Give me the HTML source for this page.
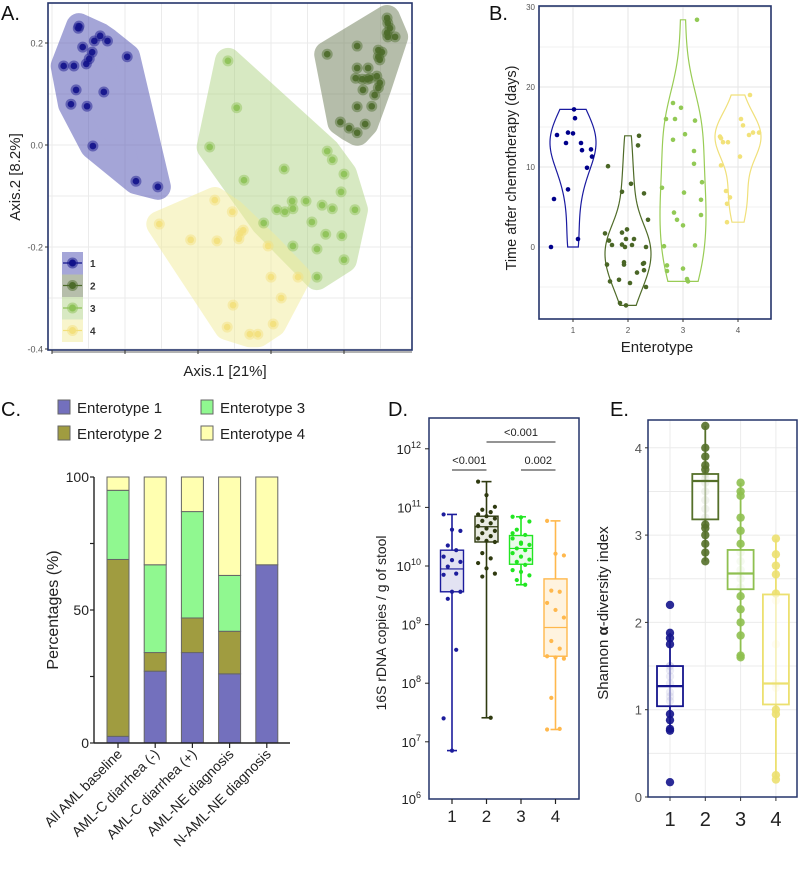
<!DOCTYPE html>
<html><head><meta charset="utf-8">
<style>
html,body{margin:0;padding:0;background:#fff;}
svg{display:block;font-family:"Liberation Sans",sans-serif;}
</style></head>
<body>
<svg id="fig" width="798" height="885" viewBox="0 0 798 885" xmlns="http://www.w3.org/2000/svg">
<g id="pA"></g>
<g id="pB"></g>
<g id="pC"></g>
<g id="pD"></g>
<g id="pE"></g>
</svg>
<script>
// ---------- Panel A data ----------
const aClusterNames = ['1','2','3','4'];
const aC1 = [[-0.163,0.233],[-0.164,0.229],[-0.158,0.192],[-0.142,0.204],[-0.134,0.214],[-0.124,0.204],[-0.145,0.182],[-0.149,0.169],[-0.153,0.159],[-0.170,0.155],[-0.184,0.155],[-0.097,0.173],[-0.167,0.108],[-0.129,0.104],[-0.174,0.080],[-0.152,0.076],[-0.144,-0.002],[-0.085,-0.071],[-0.055,-0.082]];
const aC2 = [[0.259,0.249],[0.260,0.239],[0.263,0.229],[0.259,0.220],[0.270,0.212],[0.260,0.212],[0.218,0.194],[0.177,0.178],[0.247,0.186],[0.252,0.182],[0.247,0.173],[0.249,0.167],[0.218,0.151],[0.233,0.151],[0.216,0.131],[0.225,0.129],[0.236,0.131],[0.245,0.135],[0.249,0.122],[0.247,0.112],[0.226,0.108],[0.242,0.098],[0.218,0.075],[0.238,0.076],[0.195,0.045],[0.207,0.033],[0.218,0.024],[0.229,0.041],[0.232,0.129]];
const aC3 = [[0.041,0.165],[0.053,0.073],[0.016,-0.004],[0.063,-0.069],[0.118,-0.047],[0.177,-0.012],[0.184,-0.029],[0.200,-0.057],[0.196,-0.092],[0.129,-0.110],[0.148,-0.110],[0.170,-0.118],[0.184,-0.125],[0.215,-0.127],[0.108,-0.127],[0.119,-0.131],[0.130,-0.125],[0.090,-0.153],[0.156,-0.151],[0.175,-0.175],[0.197,-0.178],[0.130,-0.198],[0.163,-0.204],[0.200,-0.225],[0.163,-0.259]];
const aC4 = [[0.023,-0.108],[0.047,-0.131],[-0.053,-0.155],[0.062,-0.167],[0.058,-0.173],[0.056,-0.184],[-0.010,-0.186],[0.026,-0.188],[0.096,-0.198],[0.100,-0.259],[0.137,-0.259],[0.114,-0.300],[0.048,-0.314],[0.103,-0.351],[0.040,-0.357],[0.071,-0.371],[0.082,-0.371]];
const aYTicks = [0.2,0.0,-0.2,-0.4];
const aYTickLabels = ['0.2','0.0','-0.2','-0.4'];
const aXTicks = [-0.2,-0.1,0,0.1,0.2];

// ---------- Panel B data ----------
const bCats = ['1','2','3','4'];
const bG1 = [0,6,14,13,7.2,14.3,14.2,17.2,16.1,1,13,12.1,9.9,12.2,11.3];
const bG1j = [-22,-19,-16,-7,-5,-5,0,1,2,5,8,9,14,18,19];
const bG2 = [10.1,1.7,0.8,0.25,-2.2,-4.3,-4.1,-7,-7.3,6.9,7.9,1.8,2.2,1,0.3,0,-1.9,-2.2,-4.5,0.25,1,-3.2,-2.1,-2,-2.9,0,-5,6.7,3.4,12.7,13.9];
const bG2j = [-20,-23,-19,-16,-21,-18,-9,-8,-2,-6,3,-6,-1,-2,-6,-3,-4,-4,2,4,6,9,15,16,16,18,18,16,20,10,11];
const bG3 = [7.4,0.1,16,-2.3,-3,18,16,13.4,4.3,3.4,17.4,2.7,-2.7,14.1,6.8,-4.3,-4,15.8,12,10.4,0.2,28.4,8.1,5.9,4];
const bG3j = [-21,-19,-17,-16,-16,-10,-8,-10,-9,-6,-2,0,0,2,1,5,4,12,11,11,12,14,19,18,18];
const bG4 = [13.8,13.6,13.1,13.1,10.2,7,5.4,6.2,3.1,11.3,16,15.2,14,14.3,14.3,19];
const bG4j = [-18,-17,-15,-10,-17,-12,-11,-8,-11,2,3,5,11,15,21,12];
const bYTicks = [0,10,20,30];

// ---------- Panel C data ----------
const cCats = ['All AML baseline','AML-C diarrhea (-)','AML-C diarrhea (+)','AML-NE diagnosis','N-AML-NE diagnosis'];
const cE1 = [2.5,27,34,26,67];
const cE2 = [66.5,7,13,16,0];
const cE3 = [26,33,40,21,0];
const cE4 = [5,33,13,37,33];
const cLegend = ['Enterotype 1','Enterotype 2','Enterotype 3','Enterotype 4'];
const cYTicks = [0,50,100];

// ---------- Panel D data (log10 copies) ----------
const dCats = ['1','2','3','4'];
const dMin = [6.85,7.41,9.68,7.21];
const dQ1 = [9.56,10.41,10.03,8.46];
const dMed = [9.95,10.67,10.30,8.95];
const dQ3 = [10.27,10.85,10.52,9.78];
const dMax = [10.88,11.44,10.84,10.77];
const dP1 = [10.88,10.62,10.60,10.35,10.27,10.16,10.10,10.07,9.99,9.87,9.85,9.56,9.56,9.44,8.57,7.40,6.85];
const dP2 = [11.44,11.21,11.01,10.96,10.92,10.88,10.85,10.81,10.77,10.73,10.68,10.64,10.60,10.56,10.51,10.47,10.43,10.41,10.22,10.13,10.05,9.96,9.87,9.82,7.41];
const dP3 = [10.84,10.83,10.76,10.62,10.53,10.47,10.40,10.36,10.30,10.27,10.22,10.16,10.11,10.07,10.02,9.93,9.90,9.84,9.76,9.68,10.56,10.38];
const dP4 = [10.77,10.21,10.18,9.58,9.56,9.37,9.25,9.12,8.72,8.59,8.46,8.44,8.42,7.75,7.22,7.21];
const dYTicks = [7,8,9,10,11,12];

// ---------- Panel E data ----------
const eCats = ['1','2','3','4'];
const eLo = [0.78,2.7,1.6,0.2];
const eQ1 = [1.04,3.18,2.38,1.06];
const eMed = [1.27,3.62,2.56,1.3];
const eQ3 = [1.5,3.7,2.83,2.32];
const eHi = [1.88,4.25,3.6,2.96];
const eP1 = [2.2,1.88,1.82,1.75,1.5,1.45,1.38,1.3,1.2,1.15,1.1,0.95,0.88,0.78,0.76,0.17];
const eP2 = [4.25,4.0,3.9,3.8,3.75,3.7,3.65,3.6,3.5,3.4,3.3,3.2,3.12,3.08,3.0,2.9,2.8,2.7];
const eP3 = [3.6,3.5,3.45,3.2,3.05,2.9,2.8,2.7,2.6,2.5,2.4,2.3,2.15,2.0,1.85,1.62,1.6];
const eP4 = [2.96,2.78,2.65,2.55,2.33,2.25,1.75,1.3,1.25,1.0,0.95,0.25,0.2];
const eYTicks = [0,1,2,3,4];

const NS='http://www.w3.org/2000/svg';
function mk(parent,tag,attrs,text){const e=document.createElementNS(NS,tag);for(const k in attrs)e.setAttribute(k,attrs[k]);if(text!==undefined)e.textContent=text;parent.appendChild(e);return e;}

// ================= Panel A =================
(function(){
  const g=document.getElementById('pA');
  const L=48,R=412,T=3,B=350;
  const xs=v=>52+(v+0.2)*730, ys=v=>145-v*510;
  mk(g,'rect',{x:L,y:T,width:R-L,height:B-T,fill:'#fff'});
  for(let v=-0.4;v<=0.25;v+=0.1){const y=ys(v);if(y<T||y>B)continue;
    const l=mk(g,'line',{x1:L,x2:R,y1:y,y2:y,stroke:'#ebebeb','stroke-width':1});
    }
  for(let v=-0.2;v<=0.26;v+=0.05){const x=xs(v);if(x>R)continue;
    const l=mk(g,'line',{x1:x,x2:x,y1:T,y2:B,stroke:'#ebebeb','stroke-width':1});
    }
  const hullCols=['#5b5cb8','#6e7d58','#a8cf7a','#f2ec9a'];
  const hullOp=[0.55,0.5,0.45,0.5];
  const ptCols=['#12128a','#4c6a2a','#8dc257','#f3e07c'];
  const clusters=[aC1,aC2,aC3,aC4];
  function hull(p){p=p.slice().sort((a,b)=>a[0]-b[0]||a[1]-b[1]);const cr=(o,a,b)=>(a[0]-o[0])*(b[1]-o[1])-(a[1]-o[1])*(b[0]-o[0]);
    const lo=[],up=[];for(const q of p){while(lo.length>=2&&cr(lo[lo.length-2],lo[lo.length-1],q)<=0)lo.pop();lo.push(q);}
    for(let i=p.length-1;i>=0;i--){const q=p[i];while(up.length>=2&&cr(up[up.length-2],up[up.length-1],q)<=0)up.pop();up.push(q);}
    up.pop();lo.pop();return lo.concat(up);}
  const clip=mk(g,'clipPath',{id:'clipA'});mk(clip,'rect',{x:L,y:T,width:R-L,height:B-T});
  const hg=mk(g,'g',{'clip-path':'url(#clipA)'});
  clusters.forEach((c,i)=>{
    const px=c.map(p=>[xs(p[0]),ys(p[1])]);const h=hull(px);
    const grp=mk(hg,'g',{opacity:hullOp[i]});
    const poly=mk(grp,'polygon',{points:h.map(p=>p.join(',')).join(' '),fill:hullCols[i],stroke:hullCols[i],'stroke-width':26,'stroke-linejoin':'round'});
    
    
  });
  clusters.forEach((c,i)=>{
    c.forEach(p=>{
      const h=mk(hg,'circle',{cx:xs(p[0]),cy:ys(p[1]),r:5.5,fill:ptCols[i],opacity:0.45});
      
      const d=mk(hg,'circle',{cx:xs(p[0]),cy:ys(p[1]),r:3.3,fill:ptCols[i],opacity:0.9});
      
    });
  });
  mk(g,'rect',{x:L,y:T,width:R-L,height:B-T,fill:'none',stroke:'#24346a','stroke-width':1.6,});
  aYTicks.forEach((v,i)=>{const y=ys(v);
    const t=mk(g,'text',{x:L-5,y:y+3.5,'text-anchor':'end','font-size':9,fill:'#555'},aYTickLabels[i]);
    
    mk(g,'line',{x1:L-3,x2:L,y1:y,y2:y,stroke:'#333'});});
  aXTicks.forEach(v=>{const x=xs(v);const l=mk(g,'line',{x1:x,x2:x,y1:B,y2:B+4,stroke:'#333'});
    });
  mk(g,'line',{x1:xs(-0.2),x2:R,y1:B+2,y2:B+2,stroke:'#333','stroke-width':0.8});
  mk(g,'text',{x:225,y:376,'text-anchor':'middle','font-size':15,fill:'#222',},'Axis.1 [21%]');
  mk(g,'text',{x:0,y:0,transform:'translate(20,177) rotate(-90)','text-anchor':'middle','font-size':15,fill:'#222',},'Axis.2 [8.2%]');
  mk(g,'text',{x:1,y:20,'font-size':20,fill:'#111',},'A.');
  const lg=mk(g,'g',{});
  [0,1,2,3].forEach(i=>{const y=252+i*22.5;
    const e=mk(lg,'g',{});
    mk(e,'rect',{x:62,y:y,width:21,height:22.5,fill:hullCols[i],opacity:hullOp[i]});
    mk(e,'line',{x1:63,x2:82,y1:y+11,y2:y+11,stroke:ptCols[i],'stroke-width':1.2});
    mk(e,'circle',{cx:72.5,cy:y+11,r:5.5,fill:ptCols[i],opacity:0.5});
    mk(e,'circle',{cx:72.5,cy:y+11,r:3.5,fill:ptCols[i]});
    mk(e,'text',{x:90,y:y+15,'font-size':10,'font-weight':'bold',fill:'#333'},aClusterNames[i]);
  });
})();

// ================= Panel B =================
(function(){
  const g=document.getElementById('pB');
  const L=539,R=771,T=6,B=319;
  const xs=i=>573+i*55, ys=v=>247-v*8;
  mk(g,'rect',{x:L,y:T,width:R-L,height:B-T,fill:'#fff'});
  for(let v=-5;v<=30;v+=5){const y=ys(v);const l=mk(g,'line',{x1:L,x2:R,y1:y,y2:y,stroke:v%10===0?'#e6e6e6':'#f0f0f0','stroke-width':1});
    }
  bCats.forEach((c,i)=>{const l=mk(g,'line',{x1:xs(i),x2:xs(i),y1:T,y2:B,stroke:'#e6e6e6'});});
  const cols=['#1a1aa0','#4f6b28','#99cc55','#f0e07a'];
  const ptc=['#00008b','#4a6626','#92c955','#f2e27a'];
  const groups=[bG1,bG2,bG3,bG4], jit=[bG1j,bG2j,bG3j,bG4j];
  groups.forEach((vals,gi)=>{
    const mn=Math.min(...vals),mx=Math.max(...vals);
    const n=vals.length,mean=vals.reduce((a,b)=>a+b,0)/n,sd=Math.sqrt(vals.reduce((s,v)=>s+(v-mean)**2,0)/(n-1));
    const bw=1.05*sd*Math.pow(n,-0.2);
    const steps=60,dens=[];
    for(let k=0;k<=steps;k++){const y=mn+(mx-mn)*k/steps;let d=0;vals.forEach(v=>{d+=Math.exp(-0.5*((y-v)/bw)**2);});dens.push([y,d]);}
    const dm=Math.max(...dens.map(d=>d[1]));const half=23;
    const right=dens.map(d=>[xs(gi)+d[1]/dm*half,ys(d[0])]);
    const left=dens.slice().reverse().map(d=>[xs(gi)-d[1]/dm*half,ys(d[0])]);
    const p=mk(g,'polygon',{points:right.concat(left).map(q=>q.join(',')).join(' '),fill:'none',stroke:cols[gi],'stroke-width':1.2});
    
    vals.forEach((v,k)=>{const c=mk(g,'circle',{cx:xs(gi)+jit[gi][k],cy:ys(v),r:2.3,fill:ptc[gi]});
      });
  });
  mk(g,'rect',{x:L,y:T,width:R-L,height:B-T,fill:'none',stroke:'#24346a','stroke-width':1.6,});
  bYTicks.forEach(v=>{const t=mk(g,'text',{x:L-4,y:ys(v)+3,'text-anchor':'end','font-size':8,fill:'#555'},String(v));
    });
  bCats.forEach((c,i)=>{const t=mk(g,'text',{x:xs(i),y:333,'text-anchor':'middle','font-size':8,fill:'#555'},c);
    
    mk(g,'line',{x1:xs(i),x2:xs(i),y1:B,y2:B+3,stroke:'#333'});});
  mk(g,'text',{x:657,y:352,'text-anchor':'middle','font-size':15,fill:'#222',},'Enterotype');
  mk(g,'text',{x:0,y:0,transform:'translate(516,168) rotate(-90)','text-anchor':'middle','font-size':14.5,fill:'#222',},'Time after chemotherapy (days)');
  mk(g,'text',{x:489,y:20,'font-size':20,fill:'#111',},'B.');
})();

// ================= Panel C =================
(function(){
  const g=document.getElementById('pC');
  const L=94,R=290,ys=v=>743-v*2.66, xs=i=>118+i*37.2, bw=22;
  const cols=['#7370bd','#a09c40','#90f890','#ffffb0'];
  const series=[cE1,cE2,cE3,cE4];
  cCats.forEach((c,i)=>{let acc=0;
    series.forEach((s,si)=>{if(s[i]<=0)return;const y0=ys(acc),y1=ys(acc+s[i]);acc+=s[i];
      const r=mk(g,'rect',{x:xs(i)-bw/2,y:y1,width:bw,height:y0-y1,fill:cols[si],stroke:'#666','stroke-width':1});
      });
    mk(g,'line',{x1:xs(i),x2:xs(i),y1:743,y2:748,stroke:'#222','stroke-width':1.2});
    const t=mk(g,'text',{x:0,y:0,transform:`translate(${xs(i)+5},755) rotate(-45)`,'text-anchor':'end','font-size':14,fill:'#222'},c);
    
  });
  mk(g,'line',{x1:L,x2:R,y1:743,y2:743,stroke:'#222','stroke-width':1.4});
  mk(g,'line',{x1:L,x2:L,y1:ys(100),y2:743,stroke:'#222','stroke-width':1.4});
  for(let v=0;v<=100;v+=25){mk(g,'line',{x1:L-4,x2:L,y1:ys(v),y2:ys(v),stroke:'#222','stroke-width':1.2});}
  cYTicks.forEach(v=>{const t=mk(g,'text',{x:L-5,y:ys(v)+5,'text-anchor':'end','font-size':14,fill:'#222'},String(v));
    });
  mk(g,'text',{x:0,y:0,transform:'translate(58,610) rotate(-90)','text-anchor':'middle','font-size':16,fill:'#222',},'Percentages (%)');
  mk(g,'text',{x:1,y:416,'font-size':20,fill:'#111',},'C.');
  cLegend.forEach((l,i)=>{const col=i<2?0:1,row=i%2;const x=col?201:58,y=400+row*26;
    const e=mk(g,'g',{});
    mk(e,'rect',{x:x,y:y,width:12,height:14,fill:cols[i],stroke:'#666','stroke-width':1});
    mk(e,'text',{x:x+19,y:y+13,'font-size':15,fill:'#222'},l);});
})();

// ================= Panel D =================
(function(){
  const g=document.getElementById('pD');
  const L=429,R=579,T=418,B=799;
  const ys=v=>566-(v-10)*58.6, xs=i=>452+i*34.5, bw=23;
  const cols=['#1c1c9c','#2f3a10','#22e622','#ffb84d'];
  const fills=['#e2e2f2','#e9ebe2','#eafbea','#fff3df'];
  const pts=[dP1,dP2,dP3,dP4];
  mk(g,'rect',{x:L,y:T,width:R-L,height:B-T,fill:'#fff',stroke:'#24346a','stroke-width':1.5,});
  dCats.forEach((c,i)=>{const x=xs(i);
    const wl=mk(g,'line',{x1:x,x2:x,y1:ys(dMax[i]),y2:ys(dMin[i]),stroke:cols[i],'stroke-width':1.6});
    
    [dMax[i],dMin[i]].forEach(v=>mk(g,'line',{x1:x-5,x2:x+5,y1:ys(v),y2:ys(v),stroke:cols[i],'stroke-width':1.6}));
    const r=mk(g,'rect',{x:x-bw/2,y:ys(dQ3[i]),width:bw,height:ys(dQ1[i])-ys(dQ3[i]),fill:fills[i],stroke:cols[i],'stroke-width':1.4});
    
    mk(g,'line',{x1:x-bw/2,x2:x+bw/2,y1:ys(dMed[i]),y2:ys(dMed[i]),stroke:cols[i],'stroke-width':1.2});
    pts[i].forEach((v,k)=>{const off=((k*7)%5-2)*4.2;const p=mk(g,'circle',{cx:x+off,cy:ys(v),r:2.1,fill:cols[i]});
      });
    mk(g,'line',{x1:x,x2:x,y1:B,y2:B+5,stroke:'#222','stroke-width':1.2});
    const t=mk(g,'text',{x:x,y:822,'text-anchor':'middle','font-size':17,fill:'#222'},c);
    
  });
  dYTicks.forEach(v=>{const y=ys(v);mk(g,'line',{x1:L-4,x2:L,y1:y,y2:y,stroke:'#222'});
    const t=mk(g,'text',{x:L-8,y:y+5,'text-anchor':'end','font-size':13,fill:'#222'});
    
    mk(t,'tspan',{},'10');mk(t,'tspan',{dy:-6,'font-size':9},String(v));});
  {const t=mk(g,'text',{x:L-8,y:B+5,'text-anchor':'end','font-size':13,fill:'#222'});
    
    mk(t,'tspan',{},'10');mk(t,'tspan',{dy:-6,'font-size':9},'6');}
  const sig=[[0,1,470,'<0.001'],[1,3,442,'<0.001'],[2,3,470,'0.002']];
  sig.forEach(s=>{const l=mk(g,'line',{x1:xs(s[0]),x2:xs(s[1]),y1:s[2],y2:s[2],stroke:'#555','stroke-width':1.2});
    
    mk(g,'text',{x:(xs(s[0])+xs(s[1]))/2,y:s[2]-6,'text-anchor':'middle','font-size':11,fill:'#222'},s[3]);});
  mk(g,'text',{x:0,y:0,transform:'translate(386,623) rotate(-90)','text-anchor':'middle','font-size':14,fill:'#222',},'16S rDNA copies / g of stool');
  mk(g,'text',{x:388,y:416,'font-size':20,fill:'#111',},'D.');
})();

// ================= Panel E =================
(function(){
  const g=document.getElementById('pE');
  const L=648,R=797,T=420,B=797;
  const ys=v=>797-v*87.3, xs=i=>670+i*35.3, bw=26;
  const cols=['#14148c','#55702a','#8fc050','#ece070'];
  const pts=[eP1,eP2,eP3,eP4];
  mk(g,'rect',{x:L,y:T,width:R-L,height:B-T,fill:'#fff'});
  for(let v=0;v<=4.01;v+=0.5){const y=ys(v);mk(g,'line',{x1:L,x2:R,y1:y,y2:y,stroke:'#ebebeb'});}
  eCats.forEach((c,i)=>mk(g,'line',{x1:xs(i),x2:xs(i),y1:T,y2:B,stroke:'#ebebeb'}));
  eCats.forEach((c,i)=>{const x=xs(i);
    const wl=mk(g,'line',{x1:x,x2:x,y1:ys(eHi[i]),y2:ys(eLo[i]),stroke:cols[i],'stroke-width':1.8});
    
    pts[i].forEach(v=>{const p=mk(g,'circle',{cx:x,cy:ys(v),r:4.2,fill:cols[i],opacity:(v<eQ1[i]||v>eQ3[i])?0.9:0.18});
      });
    const r=mk(g,'rect',{x:x-bw/2,y:ys(eQ3[i]),width:bw,height:ys(eQ1[i])-ys(eQ3[i]),fill:'#fff','fill-opacity':0.55,stroke:cols[i],'stroke-width':1.8});
    
    mk(g,'line',{x1:x-bw/2,x2:x+bw/2,y1:ys(eMed[i]),y2:ys(eMed[i]),stroke:cols[i],'stroke-width':2.2});
    mk(g,'line',{x1:x,x2:x,y1:B,y2:B+4,stroke:'#333'});
    const t=mk(g,'text',{x:x,y:826,'text-anchor':'middle','font-size':20,fill:'#222'},c);
    
  });
  mk(g,'rect',{x:L,y:T,width:R-L,height:B-T,fill:'none',stroke:'#24346a','stroke-width':1.5,});
  eYTicks.forEach(v=>{const t=mk(g,'text',{x:L-6,y:ys(v)+5,'text-anchor':'end','font-size':13,fill:'#555'},String(v));
    
    mk(g,'line',{x1:L-3,x2:L,y1:ys(v),y2:ys(v),stroke:'#333'});});
  const yt=mk(g,'text',{x:0,y:0,transform:'translate(608,613) rotate(-90)','text-anchor':'middle','font-size':15,fill:'#222',});
  mk(yt,'tspan',{},'Shannon ');mk(yt,'tspan',{'font-weight':'bold'},'α');mk(yt,'tspan',{},'-diversity index');
  mk(g,'text',{x:610,y:416,'font-size':20,fill:'#111',},'E.');
})();
</script>
</body></html>
